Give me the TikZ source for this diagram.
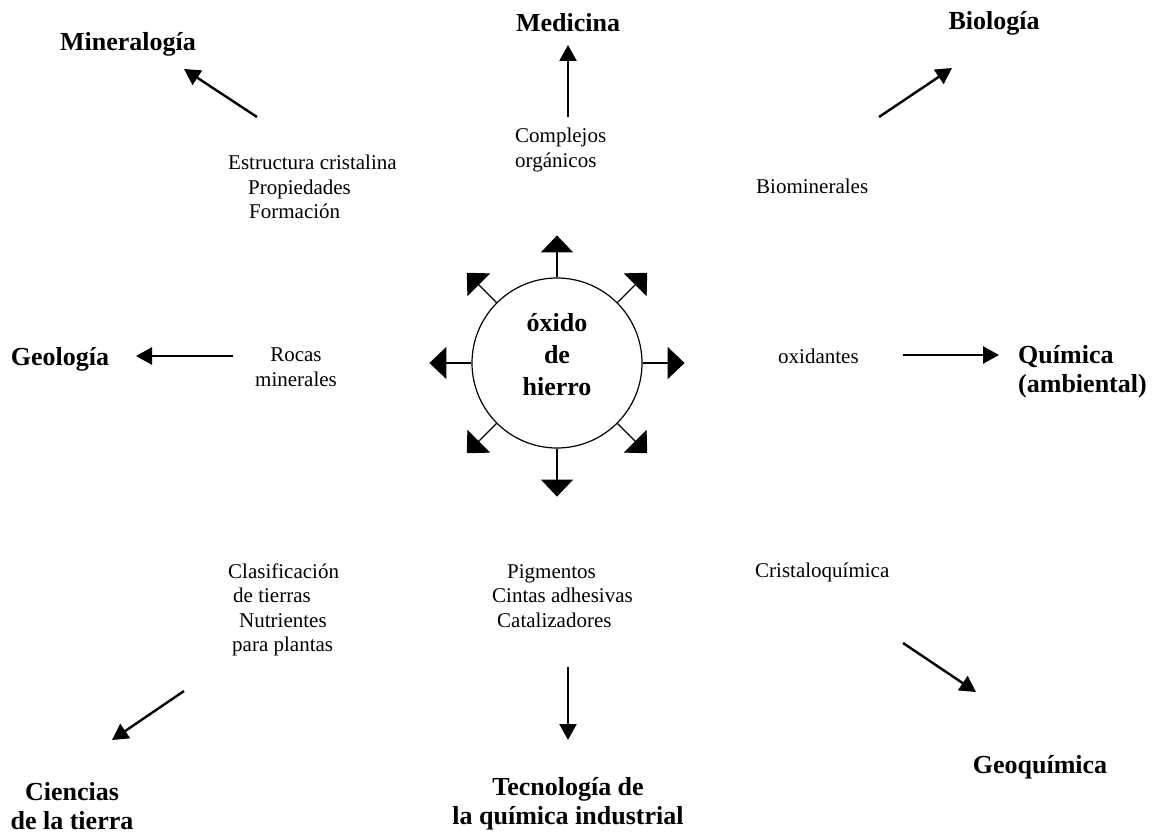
\documentclass[tikz,border=0pt]{standalone}
\usepackage{fontspec}
\setmainfont{Liberation Serif}
\usetikzlibrary{arrows.meta}

\tikzset{
  tema/.style={font=\fontsize{26}{29}\selectfont\bfseries, inner sep=0pt},
  nota/.style={font=\fontsize{21}{24.5}\selectfont, inner sep=0pt, align=left},
  flecha/.style={line width=2.4pt, -{Triangle[width=17pt,length=16pt]}},
  rayo/.style={line width=1.3pt, -{Triangle[width=32pt,length=17pt]}}
}

\begin{document}
\begin{tikzpicture}[x=1pt, y=-1pt]
                \useasboundingbox (0,0) rectangle (1159,840);
                \node[draw, circle, line width=1.2pt, minimum size=170pt, inner sep=0pt] (oxido) at (557,363) {};
                \node[align=center, inner sep=0pt, font=\fontsize{26}{32}\selectfont\bfseries] (oxido-texto) at (557,355) {óxido\\de\\hierro};
                \foreach \a in {0,45,...,225,315}
                    \draw[rayo] (oxido.\a) -- ++(\a:42pt);
                \draw[rayo] (oxido.270) -- ++(270:48pt);

                \node[tema] (mineralogia) at (128,44) {Mineralogía};
                \node[tema] (medicina) at (568,23) {Medicina};
                \node[tema] (biologia) at (994,23) {Biología};
                \node[tema] (geologia) at (60,359) {Geología};
                \node[tema, align=left, anchor=west] (quimica) at (1018,372) {Química\\(ambiental)};
                \node[tema, align=center] (ciencias) at (72,806) {Ciencias\\de la tierra};
                \node[tema, align=center] (tecnologia) at (568,804) {Tecnología de\\la química industrial};
                \node[tema] (geoquimica) at (1040,767) {Geoquímica};

                \node[nota, anchor=west] (estructura) at (228,187) {Estructura cristalina\\\hspace*{20pt}Propiedades\\\hspace*{21pt}Formación};
                \node[nota, anchor=west] (complejos) at (515,150) {Complejos\\orgánicos};
                \node[nota, anchor=west] (biominerales) at (756,186) {Biominerales};
                \node[nota, align=center] (rocas) at (296,367) {Rocas\\minerales};
                \node[nota, anchor=west] (oxidantes) at (778,356) {oxidantes};
                \node[nota, anchor=west] (clasificacion) at (228,610) {Clasificación\\\hspace*{5pt}de tierras\\\hspace*{11pt}Nutrientes\\\hspace*{4pt}para plantas};
                \node[nota, anchor=west] (pigmentos) at (492,596) {\hspace*{15pt}Pigmentos\\Cintas adhesivas\\\hspace*{5pt}Catalizadores};
                \node[nota, anchor=west] (cristalo) at (755,572) {Cristaloquímica};

                \coordinate (mineralogia-in) at (184,69);
                \coordinate (mineralogia-out) at (257,117);
                \coordinate (medicina-in) at (568,45);
                \coordinate (medicina-out) at (568,117);
                \coordinate (biologia-in) at (952,68);
                \coordinate (biologia-out) at (879,117);
                \coordinate (geologia-in) at (136,356);
                \coordinate (geologia-out) at (233,356);
                \coordinate (quimica-in) at (999,355);
                \coordinate (quimica-out) at (903,355);
                \coordinate (ciencias-in) at (112,740);
                \coordinate (ciencias-out) at (184,691);
                \coordinate (tecnologia-in) at (568,740);
                \coordinate (tecnologia-out) at (568,667);
                \coordinate (geoquimica-in) at (976,692);
                \coordinate (geoquimica-out) at (903,643);

                \draw[flecha] (mineralogia-out) -- (mineralogia-in);
                \draw[flecha] (medicina-out) -- (medicina-in);
                \draw[flecha] (biologia-out) -- (biologia-in);
                \draw[flecha] (geologia-out) -- (geologia-in);
                \draw[flecha] (quimica-out) -- (quimica-in);
                \draw[flecha] (ciencias-out) -- (ciencias-in);
                \draw[flecha] (tecnologia-out) -- (tecnologia-in);
                \draw[flecha] (geoquimica-out) -- (geoquimica-in);
            \end{tikzpicture}
\end{document}
